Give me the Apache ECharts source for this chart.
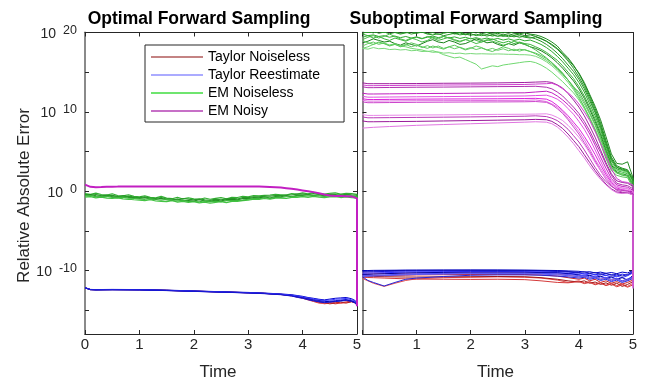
<!DOCTYPE html>
<html><head><meta charset="utf-8">
<script src="https://cdn.jsdelivr.net/npm/echarts@6/dist/echarts.min.js"></script>
<style>html,body{margin:0;padding:0;background:#fff}#c{width:653px;height:382px}</style>
</head><body><div id="c"></div>
<script>
// ---- x samples (Time) ----
const X_FINE = [0,0.1,0.2,0.3,0.4,0.5,0.6,0.7,0.8,0.9,1,1.1,1.2,1.3,1.4,1.5,1.6,1.7,1.8,1.9,2,2.1,2.2,2.3,2.4,2.5,2.6,2.7,2.8,2.9,3,3.1,3.2,3.3,3.4,3.5,3.6,3.7,3.8,3.9,4,4.1,4.2,4.3,4.4,4.5,4.6,4.7,4.8,4.9,5,5];
const XL_S = [0,0.1,0.2,0.5,1,1.5,2,2.5,3,3.3,3.6,3.8,3.9,4,4.1,4.2,4.3,4.4,4.5,4.6,4.7,4.8,4.9,4.97,5];
const XR_S = [0,0.1,0.2,0.4,0.6,0.8,1,1.5,2,2.5,3,3.3,3.6,3.8,4,4.1,4.2,4.3,4.4,4.5,4.6,4.7,4.8,4.9,5];
const XR_M = [0,0.1,0.2,0.5,1,1.5,2,2.5,3,3.2,3.4,3.5,3.6,3.7,3.8,3.9,4,4.1,4.2,4.3,4.4,4.5,4.6,4.7,4.8,4.9,5,5];

// ---- y tick exponents (Relative Absolute Error = 10^value) ----
const Y_LABELS = [-10,0,10,20];
const Y_TICKS = [-15,-10,-5,0,5,10,15,20];

// ---- Optimal Forward Sampling (log10 of error) ----
const optEMNoisy = [0.82,0.55,0.5,0.52,0.55,0.57,0.58,0.6,0.6,0.6,
 0.6,0.6,0.6,0.6,0.6,0.6,0.6,0.6,0.6,0.6,
 0.6,0.6,0.6,0.6,0.6,0.6,0.6,0.6,0.6,0.6,
 0.6,0.6,0.58,0.56,0.54,0.5,0.45,0.38,0.3,0.2,
 0.1,0.0,-0.12,-0.25,-0.42,-0.55,-0.6,-0.62,-0.64,-0.66,-0.9,-14.5];
const optEMNoiseless1 = [-0.3,-0.4,-0.25,-0.42,-0.48,-0.33,-0.55,-0.6,-0.45,-0.65,
 -0.72,-0.58,-0.78,-0.85,-0.66,-0.88,-0.95,-0.78,-0.98,-0.85,
 -0.98,-1.05,-0.86,-1.02,-0.9,-0.82,-0.95,-0.78,-0.8,-0.66,
 -0.7,-0.55,-0.6,-0.52,-0.48,-0.4,-0.45,-0.5,-0.3,-0.36,
 -0.22,-0.34,-0.16,-0.3,-0.38,-0.26,-0.22,-0.38,-0.27,-0.3,-0.4,-14];
const optEMNoiseless2 = [-0.5,-0.42,-0.58,-0.62,-0.5,-0.68,-0.72,-0.6,-0.78,-0.82,
 -0.92,-0.82,-0.98,-1.04,-0.9,-1.08,-1.14,-0.98,-1.15,-1.18,
 -1.24,-1.08,-1.22,-1.28,-1.12,-1.24,-1.06,-1.02,-1.1,-0.92,
 -0.94,-0.82,-0.84,-0.72,-0.86,-0.68,-0.7,-0.56,-0.72,-0.52,
 -0.54,-0.42,-0.56,-0.45,-0.58,-0.48,-0.62,-0.48,-0.58,-0.62,-0.65,-14];
const optEMNoiseless3 = [-0.75,-0.68,-0.84,-0.76,-0.88,-0.92,-0.85,-0.98,-1.02,-1.08,
 -1.12,-1.18,-1.06,-1.24,-1.28,-1.32,-1.18,-1.38,-1.28,-1.42,
 -1.32,-1.48,-1.38,-1.52,-1.4,-1.32,-1.44,-1.28,-1.28,-1.18,
 -1.12,-1.02,-1.04,-0.92,-1.02,-0.88,-0.88,-0.92,-0.78,-0.78,
 -0.68,-0.78,-0.66,-0.75,-0.82,-0.72,-0.68,-0.8,-0.72,-0.82,-0.85,-14];
const optEMNoiseless4 = [-0.4,-0.52,-0.42,-0.55,-0.62,-0.52,-0.65,-0.72,-0.62,-0.75,
 -0.82,-0.72,-0.88,-0.92,-0.8,-0.98,-1.0,-1.08,-0.92,-1.02,
 -1.1,-0.98,-1.08,-1.15,-1.0,-1.1,-0.98,-0.9,-0.98,-0.82,
 -0.8,-0.7,-0.72,-0.62,-0.62,-0.55,-0.55,-0.48,-0.48,-0.38,
 -0.36,-0.42,-0.3,-0.4,-0.46,-0.38,-0.44,-0.5,-0.4,-0.47,-0.5,-14];
const optEMNoiseless5 = [-0.6,-0.56,-0.68,-0.72,-0.66,-0.78,-0.82,-0.76,-0.88,-0.92,
 -0.98,-1.02,-0.95,-1.08,-1.12,-1.05,-1.18,-1.22,-1.15,-1.28,
 -1.3,-1.33,-1.22,-1.35,-1.26,-1.33,-1.2,-1.18,-1.16,-1.12,
 -1.02,-0.93,-0.95,-0.83,-0.9,-0.78,-0.77,-0.7,-0.7,-0.63,
 -0.62,-0.6,-0.6,-0.58,-0.67,-0.58,-0.64,-0.66,-0.64,-0.63,-0.7,-14];
const optTaylorRe1 = [-12.15,-12.38,-12.4,-12.38,-12.4,-12.47,-12.57,-12.67,-12.76,-12.84,-12.95,-13.05,-13.15,-13.25,-13.4,-13.5,-13.62,-13.7,-13.6,-13.5,-13.45,-13.4,-13.55,-13.8,-14.2];
const optTaylorRe2 = [-12.2,-12.42,-12.44,-12.42,-12.44,-12.52,-12.62,-12.72,-12.82,-12.9,-13.02,-13.18,-13.32,-13.45,-13.6,-13.75,-13.9,-13.95,-13.85,-13.8,-13.72,-13.65,-13.8,-14.0,-14.3];
const optTaylorRe3 = [-12.18,-12.4,-12.43,-12.41,-12.43,-12.5,-12.6,-12.7,-12.8,-12.88,-13.0,-13.12,-13.25,-13.38,-13.5,-13.65,-13.78,-13.85,-13.95,-13.88,-13.8,-13.72,-13.85,-14.05,-14.35];
const optTaylorRe4 = [-12.17,-12.39,-12.42,-12.4,-12.42,-12.49,-12.59,-12.69,-12.79,-12.87,-12.98,-13.1,-13.2,-13.32,-13.45,-13.58,-13.68,-13.78,-13.72,-13.62,-13.58,-13.52,-13.68,-13.9,-14.25];
const optTaylorRe5 = [-12.19,-12.41,-12.44,-12.43,-12.45,-12.53,-12.63,-12.73,-12.83,-12.92,-13.05,-13.22,-13.38,-13.5,-13.68,-13.82,-13.95,-14.05,-13.98,-13.92,-13.85,-13.78,-13.9,-14.1,-14.4];
const optTaylorNl1 = [-12.19,-12.41,-12.43,-12.41,-12.43,-12.51,-12.61,-12.71,-12.81,-12.89,-13.02,-13.2,-13.35,-13.5,-13.7,-13.9,-14.1,-14.15,-14.05,-14.2,-14.1,-13.95,-13.85,-14.0,-14.3];
const optTaylorNl2 = [-12.18,-12.4,-12.42,-12.4,-12.42,-12.5,-12.6,-12.7,-12.8,-12.88,-13.0,-13.15,-13.3,-13.45,-13.62,-13.85,-14.0,-14.2,-14.1,-14.0,-14.12,-14.05,-13.9,-14.05,-14.35];
const optTaylorNl3 = [-12.17,-12.39,-12.41,-12.39,-12.41,-12.49,-12.59,-12.69,-12.79,-12.87,-13.0,-13.12,-13.28,-13.42,-13.58,-13.78,-13.95,-14.05,-14.2,-14.1,-13.98,-14.1,-13.95,-14.1,-14.4];

// ---- Suboptimal Forward Sampling (log10 of error) ----
const subTaylorRe1 = [-10.0,-10.0,-9.98,-9.97,-9.96,-9.95,-9.95,-9.94,-9.93,-9.93,-9.95,-9.97,-10.0,-10.05,-10.1,-10.2,-10.15,-10.3,-10.2,-10.35,-10.25,-10.4,-10.2,-10.3,-10.0];
const subTaylorRe2 = [-10.2,-10.18,-10.15,-10.12,-10.1,-10.08,-10.06,-10.04,-10.03,-10.03,-10.05,-10.08,-10.12,-10.2,-10.3,-10.45,-10.35,-10.55,-10.4,-10.6,-10.5,-10.7,-10.45,-10.6,-10.2];
const subTaylorRe3 = [-10.35,-10.33,-10.3,-10.27,-10.24,-10.2,-10.17,-10.14,-10.12,-10.12,-10.14,-10.18,-10.25,-10.35,-10.45,-10.4,-10.6,-10.5,-10.75,-10.6,-10.85,-10.7,-10.9,-10.65,-10.3];
const subTaylorRe4 = [-10.5,-10.48,-10.45,-10.4,-10.36,-10.32,-10.28,-10.24,-10.22,-10.21,-10.22,-10.26,-10.3,-10.4,-10.55,-10.7,-10.6,-10.85,-10.7,-11.0,-10.8,-11.1,-10.9,-11.2,-10.6];
const subTaylorRe5 = [-10.6,-10.62,-10.6,-10.55,-10.5,-10.45,-10.4,-10.36,-10.33,-10.32,-10.33,-10.36,-10.42,-10.5,-10.65,-10.6,-10.8,-10.7,-10.95,-10.85,-11.1,-10.95,-11.3,-11.05,-10.8];
const subTaylorRe6 = [-10.8,-11.25,-11.5,-11.95,-11.5,-11.1,-10.95,-10.75,-10.6,-10.55,-10.55,-10.6,-10.7,-10.8,-10.95,-10.85,-11.1,-10.95,-11.25,-11.1,-11.4,-11.2,-11.5,-11.3,-11.0];
const subTaylorRe7 = [-10.75,-10.72,-10.7,-10.65,-10.6,-10.55,-10.5,-10.45,-10.4,-10.38,-10.4,-10.45,-10.55,-10.65,-10.8,-10.7,-10.95,-10.85,-11.15,-11.0,-11.3,-11.1,-11.45,-11.2,-10.9];
const subTaylorRe8 = [-10.1,-10.08,-10.05,-10.02,-10.0,-9.98,-9.97,-9.96,-9.96,-9.97,-9.98,-10.0,-10.05,-10.12,-10.25,-10.15,-10.35,-10.25,-10.5,-10.35,-10.6,-10.45,-10.7,-10.5,-10.1];
const subTaylorNl1 = [-10.5,-10.55,-10.6,-10.62,-10.6,-10.58,-10.55,-10.52,-10.5,-10.48,-10.5,-10.55,-10.7,-10.9,-11.1,-10.95,-11.3,-11.1,-11.5,-11.3,-11.6,-11.4,-11.7,-11.5,-11.2];
const subTaylorNl2 = [-11.0,-11.3,-11.6,-12.0,-11.6,-11.25,-11.05,-10.9,-10.85,-10.8,-10.85,-10.95,-11.2,-11.5,-11.3,-11.55,-11.4,-11.7,-11.5,-11.85,-11.6,-11.9,-11.7,-12.0,-11.6];
const subTaylorNl3 = [-10.7,-10.72,-10.74,-10.78,-10.8,-10.82,-10.82,-10.8,-10.78,-10.75,-10.78,-10.9,-11.1,-11.3,-11.45,-11.3,-11.6,-11.45,-11.75,-11.55,-11.85,-11.6,-12.0,-11.75,-11.4];
const subTaylorNl4 = [-10.3,-10.32,-10.33,-10.35,-10.35,-10.35,-10.34,-10.32,-10.3,-10.28,-10.3,-10.35,-10.45,-10.6,-10.8,-10.65,-10.95,-10.8,-11.1,-10.9,-11.2,-11.0,-11.3,-11.1,-10.9];
const subTaylorNl5 = [-10.85,-10.88,-10.9,-10.95,-11.0,-11.05,-11.08,-11.1,-11.12,-11.1,-11.15,-11.3,-11.5,-11.55,-11.4,-11.65,-11.5,-11.8,-11.6,-11.9,-11.7,-12.05,-11.8,-12.1,-11.8];

const subEMNoisy1 = [13.65,13.55,13.55,13.55,13.57,13.6,13.62,13.65,13.7,13.75,13.8,13.7,13.4,13.0,12.3,11.5,10.6,9.5,8.2,6.8,5.2,3.6,2.2,1.3,1.1,1.0,0.6,-11.5];
const subEMNoisy2 = [13.4,13.3,13.3,13.32,13.35,13.38,13.4,13.42,13.45,13.5,13.55,13.6,13.35,12.9,12.4,11.8,11.0,10.0,8.9,7.5,6.0,4.4,2.8,1.6,1.2,1.1,0.8,-11.3];
const subEMNoisy3 = [13.15,13.05,13.05,13.07,13.1,13.12,13.15,13.18,13.2,13.22,13.1,12.9,12.5,12.0,11.3,10.6,9.8,8.8,7.6,6.2,4.9,3.4,2.0,1.0,0.8,0.7,0.3,-11.8];
const subEMNoisy4 = [12.35,12.25,12.25,12.27,12.3,12.32,12.35,12.38,12.4,12.5,12.6,12.4,12.0,11.5,10.9,10.2,9.4,8.4,7.2,5.8,4.3,2.9,1.6,0.8,0.6,0.5,0.1,-11.6];
const subEMNoisy5 = [11.95,11.85,11.85,11.87,11.9,11.92,11.95,11.97,12.0,12.05,12.1,11.9,11.6,11.1,10.4,9.7,8.8,7.8,6.6,5.2,3.8,2.4,1.3,0.6,0.4,0.3,-0.1,-11.9];
const subEMNoisy6 = [11.65,11.55,11.55,11.57,11.6,11.62,11.63,11.65,11.68,11.7,11.6,11.3,10.8,10.2,9.5,8.7,7.9,6.9,5.8,4.6,3.3,2.1,1.1,0.4,0.2,0.1,-0.2,-12.0];
const subEMNoisy7 = [11.45,11.35,11.35,11.37,11.4,11.41,11.42,11.44,11.45,11.5,11.3,11.0,10.6,10.0,9.2,8.4,7.5,6.5,5.3,4.0,2.9,1.8,0.9,0.3,0.1,0.0,-0.3,-11.7];
const subEMNoisy8 = [11.25,11.15,11.15,11.17,11.2,11.22,11.24,11.25,11.27,11.3,11.2,10.9,10.4,9.8,9.0,8.1,7.2,6.1,5.0,3.8,2.6,1.5,0.7,0.1,-0.1,-0.2,-0.5,-12.2];
const subEMNoisy9 = [9.65,9.55,9.55,9.57,9.6,9.62,9.65,9.68,9.7,9.72,9.75,9.6,9.3,8.9,8.3,7.6,6.8,5.9,4.8,3.6,2.6,1.6,0.9,0.5,0.4,0.3,0.0,-11.4];
const subEMNoisy10 = [9.35,9.25,9.25,9.27,9.3,9.33,9.36,9.4,9.45,9.5,9.4,9.2,8.9,8.4,7.8,7.0,6.2,5.2,4.1,3.0,2.0,1.2,0.6,0.2,0.1,0.0,-0.3,-12.0];
const subEMNoisy11 = [8.85,8.75,8.75,8.77,8.8,8.85,8.9,8.95,9.0,9.05,9.0,8.8,8.4,7.9,7.2,6.4,5.6,4.6,3.6,2.6,1.7,0.9,0.3,-0.1,-0.2,-0.2,-0.4,-11.5];
const subEMNoisy12 = [7.95,8.0,8.05,8.15,8.3,8.4,8.5,8.6,8.7,8.75,8.7,8.5,8.1,7.5,6.8,6.0,5.1,4.2,3.2,2.3,1.5,0.8,0.2,-0.2,-0.3,-0.2,-0.5,-12.3];

const subEMNoiseless1 = [20.6,20.4,20.5,20.3,20.45,20.2,20.35,20.5,20.3,20.4,
 20.2,20.35,20.1,20.25,20.4,20.2,20.3,20.1,20.0,20.15,
 20.3,20.1,20.2,20.0,19.9,20.05,19.95,20.1,19.9,19.85,
 19.95,19.8,19.7,19.5,19.2,18.8,18.3,17.5,16.8,15.9,
 14.8,13.5,12.0,10.4,8.6,6.4,4.3,3.2,2.9,2.7,1.6,-8];
const subEMNoiseless2 = [20.1,20.0,20.2,19.9,20.05,19.85,20.0,19.8,19.95,20.1,
 19.9,20.05,19.8,19.7,19.85,19.6,19.75,19.9,19.7,19.8,
 19.65,19.8,19.6,19.75,19.55,19.7,19.5,19.65,19.45,19.6,
 19.4,19.3,19.45,19.2,18.9,18.4,17.9,17.2,16.4,15.5,
 14.4,13.2,11.7,10.1,8.3,6.1,4.1,3.0,2.8,2.6,1.4,-8];
const subEMNoiseless3 = [19.8,19.6,19.7,19.5,19.6,19.4,19.55,19.35,19.5,19.3,
 19.45,19.25,19.4,19.55,19.35,19.5,19.3,19.45,19.25,19.4,
 19.2,19.35,19.15,19.3,19.1,19.25,19.05,19.2,19.0,19.15,
 18.95,19.05,18.8,18.5,18.1,17.6,17.0,16.3,15.5,14.7,
 13.7,12.5,11.0,9.5,7.8,5.7,3.8,2.8,2.6,2.4,1.2,-8];
const subEMNoiseless4 = [19.4,19.6,19.3,19.5,19.2,19.0,19.3,19.1,18.9,19.2,
 19.4,19.2,19.5,19.3,19.0,19.2,19.4,19.1,18.9,19.1,
 19.3,19.0,18.8,19.0,19.2,18.9,18.7,18.9,18.6,18.8,
 18.6,18.5,18.2,17.9,17.5,17.0,16.5,15.8,15.0,14.2,
 13.2,12.0,10.6,9.1,7.4,5.4,3.5,2.6,2.4,2.2,1.0,-8];
const subEMNoiseless5 = [18.7,18.9,19.2,19.0,18.8,18.9,18.6,18.4,18.7,18.5,
 18.3,18.6,18.9,19.1,18.8,18.7,19.0,18.8,18.5,18.6,
 18.9,19.2,19.0,18.7,18.8,18.5,18.3,18.6,18.4,18.7,
 18.5,18.2,18.0,17.7,17.3,16.8,16.2,15.5,14.7,13.9,
 12.9,11.7,10.3,8.8,7.1,5.1,3.3,2.4,2.2,2.0,0.8,-8];
const subEMNoiseless6 = [18.3,18.6,18.8,18.5,18.7,18.4,18.6,18.3,18.5,18.2,
 18.4,18.1,18.35,18.05,18.3,18.0,18.2,17.95,18.15,17.9,
 18.1,17.85,18.05,17.8,18.0,17.75,17.95,17.7,17.9,17.65,
 17.85,17.6,17.3,16.9,16.5,16.0,15.4,14.7,14.0,13.2,
 12.2,11.0,9.7,8.3,6.6,4.7,3.0,2.3,2.1,1.9,0.7,-8];
const subEMNoiseless7 = [18.0,18.2,18.5,18.7,18.6,18.4,18.5,18.3,18.2,18.0,
 17.9,17.8,17.6,17.7,17.5,17.2,17.0,16.8,16.9,16.6,
 16.3,16.0,15.4,15.6,15.8,15.7,15.9,16.0,16.1,16.2,
 16.3,16.35,16.2,15.9,15.5,15.0,14.4,13.8,13.1,12.4,
 11.5,10.4,9.1,7.7,6.1,4.3,2.8,2.3,2.2,2.5,1.1,-8];
const subEMNoiseless8 = [18.0,17.9,18.1,17.95,18.0,17.85,17.9,17.8,17.85,17.7,
 17.75,17.6,17.65,17.5,17.55,17.4,17.45,17.35,17.4,17.3,
 17.35,17.3,17.32,17.3,17.28,17.3,17.28,17.25,17.25,17.2,
 17.2,17.15,17.0,16.7,16.3,15.8,15.2,14.5,13.7,12.8,
 11.7,10.6,9.3,7.9,6.3,4.5,3.0,2.6,2.6,2.4,1.2,-8];
const subEMNoiseless9 = [19.9,20.1,19.95,20.2,20.0,20.3,20.1,19.9,20.05,19.8,
 19.95,20.1,19.85,20.0,19.75,19.9,20.05,19.8,19.95,19.7,
 19.85,19.6,19.75,19.55,19.7,19.5,19.65,19.45,19.6,19.4,
 19.55,19.4,19.2,18.9,18.5,18.0,17.4,16.7,15.9,15.1,
 14.1,12.9,11.4,9.9,8.1,6.0,4.0,3.0,2.7,2.5,1.3,-8];
const subEMNoiseless10 = [19.1,19.4,19.6,19.3,19.5,19.8,19.5,19.2,19.0,19.3,
 19.1,18.8,19.0,19.4,19.2,19.5,19.3,19.0,18.8,19.1,
 18.9,18.6,18.8,19.1,18.9,18.7,18.4,18.6,18.9,18.7,
 18.5,18.2,17.8,17.3,16.8,16.2,15.5,14.8,14.0,13.1,
 12.5,11.3,9.9,8.5,6.8,4.9,3.1,2.3,2.0,1.9,0.6,-8];
const subEMNoiseless11 = [20.9,20.7,20.8,20.6,20.75,20.5,20.65,20.4,20.55,20.3,
 20.45,20.2,20.35,20.1,20.25,20.0,20.15,19.9,20.05,19.8,
 19.95,20.1,19.85,20.0,19.75,19.9,19.7,19.85,19.65,19.8,
 19.6,19.7,19.5,19.25,18.9,18.5,18.0,17.3,16.6,15.8,
 14.9,13.7,12.2,10.7,9.0,6.9,4.7,3.5,3.4,3.7,1.7,-8];
const subEMNoiseless12 = [19.0,18.7,18.5,18.8,18.6,18.3,18.5,18.2,18.4,18.7,
 18.5,18.2,18.0,18.3,18.1,17.9,18.2,18.4,18.1,17.8,
 18.0,18.3,18.1,17.8,17.6,17.9,18.2,18.0,17.7,17.9,
 17.8,17.6,17.4,17.1,16.7,16.2,15.6,14.9,14.0,13.0,
 11.9,10.6,9.2,7.7,6.0,4.1,2.6,2.0,1.8,1.7,0.4,-8];

const LEGEND_NAMES = ['Taylor Noiseless','Taylor Reestimate','EM Noiseless','EM Noisy'];
const LEGEND_COLORS = ['#b05a5a','#8f8fff','#3fdc3f','#b540b5'];

const FONT = 'Liberation Sans';
const series = [];
function add(xs, ys, xi, color, width, tag) {
  if (xs.length !== ys.length) throw new Error('length mismatch ' + tag + ': ' + xs.length + ' vs ' + ys.length);
  series.push({
    type: 'line', name: tag, xAxisIndex: xi, yAxisIndex: xi,
    data: xs.map((x, i) => [x, ys[i]]),
    symbol: 'none', showSymbol: false, silent: true, animation: false,
    lineStyle: { color: color, width: width }, itemStyle: { color: color },
    emphasis: { disabled: true }, z: 2
  });
}
// left panel (axis index 0)
[optTaylorNl1, optTaylorNl2, optTaylorNl3].forEach((d, i) => add(XL_S, d, 0, ['#d62f2f','#e85050','#b82020'][i], 1, 'oTN' + i));
[optTaylorRe1, optTaylorRe2, optTaylorRe3, optTaylorRe4, optTaylorRe5].forEach((d, i) => add(XL_S, d, 0, ['#0000cc','#2020e6','#0000a8','#3a3aff','#1414d0'][i], 1, 'oTR' + i));
[optEMNoiseless1, optEMNoiseless2, optEMNoiseless3, optEMNoiseless4, optEMNoiseless5].forEach((d, i) => add(X_FINE, d, 0, ['#33b033','#1f8a1f','#44c444','#2a9a2a','#3cb83c'][i], 1.2, 'oEN' + i));
add(X_FINE, optEMNoisy, 0, '#c21fc2', 2, 'oEY');
// right panel (axis index 2)
[subTaylorNl1, subTaylorNl2, subTaylorNl3, subTaylorNl4, subTaylorNl5].forEach((d, i) => add(XR_S, d, 2, ['#cc2222','#e04b4b','#a01818','#f07070','#d43a3a'][i], 1, 'sTN' + i));
[subTaylorRe1, subTaylorRe2, subTaylorRe3, subTaylorRe4, subTaylorRe5, subTaylorRe6, subTaylorRe7, subTaylorRe8].forEach((d, i) => add(XR_S, d, 2, ['#0000c8','#1a1ae6','#3333ff','#0000a0','#4d4dff','#2626d9','#5959f2','#1010b8'][i], 1, 'sTR' + i));
[subEMNoiseless1, subEMNoiseless2, subEMNoiseless3, subEMNoiseless4, subEMNoiseless5, subEMNoiseless6, subEMNoiseless7, subEMNoiseless8, subEMNoiseless9, subEMNoiseless10, subEMNoiseless11, subEMNoiseless12].forEach((d, i) => add(X_FINE, d, 2, ['#1e8c1e','#249a24','#2ea82e','#3cb43c','#1a801a','#66cc66','#70d870','#7ad87a','#2a962a','#4cbc4c','#208820','#5ac85a'][i], 1, 'sEN' + i));
[subEMNoisy1, subEMNoisy2, subEMNoisy3, subEMNoisy4, subEMNoisy5, subEMNoisy6, subEMNoisy7, subEMNoisy8, subEMNoisy9, subEMNoisy10, subEMNoisy11, subEMNoisy12].forEach((d, i) => add(XR_M, d, 2, ['#a0209f','#d040d0','#b030b0','#c020c0','#e050e0','#dd22dd','#e070e0','#cc44cc','#e888e8','#b838b8','#9a1a9a','#e075e0'][i], 1, 'sEY' + i));
// legend entries
LEGEND_NAMES.forEach((n, i) => series.push({ type: 'line', name: n, data: [], xAxisIndex: 0, yAxisIndex: 0, symbol: 'none', lineStyle: { color: LEGEND_COLORS[i] }, itemStyle: { color: LEGEND_COLORS[i] } }));

const axisDark = { lineStyle: { color: '#262626', width: 1 } };
const axisGray = { lineStyle: { color: '#8a8a8a', width: 2 } };
const tickIn = { inside: true, length: 4, lineStyle: { color: '#262626' } };
function xAx(grid, pos, labels, hideZero) {
  return {
    type: 'value', gridIndex: grid, position: pos, min: 0, max: 5, interval: 1,
    axisLine: Object.assign({ show: true, onZero: false }, axisDark),
    axisTick: tickIn, splitLine: { show: false },
    axisLabel: { show: labels, margin: 3, fontSize: 15, fontFamily: FONT, color: '#262626',
      formatter: v => (hideZero && v === 0) ? '' : String(v) }
  };
}
function yAx(grid, pos, labels, gray) {
  return {
    type: 'value', gridIndex: grid, position: pos, min: -18, max: 20,
    axisLine: Object.assign({ show: true, onZero: false }, gray ? axisGray : axisDark),
    axisTick: Object.assign({ customValues: Y_TICKS }, tickIn), splitLine: { show: false },
    axisLabel: { show: labels, customValues: Y_LABELS, margin: 8, color: '#262626',
      formatter: v => '{b|10}{s|' + v + '}',
      rich: {
        b: { fontSize: 14, fontFamily: FONT, color: '#262626', verticalAlign: 'bottom' },
        s: { fontSize: 12.5, fontFamily: FONT, color: '#262626', verticalAlign: 'top', padding: [0, 0, 4, 7] }
      } }
  };
}

const option = {
  animation: false,
  backgroundColor: '#fff',
  textStyle: { fontFamily: FONT },
  grid: [
    { left: 85, top: 32.5, width: 272, height: 301.5, outerBoundsMode: 'none' },
    { left: 362.5, top: 32.5, width: 270.5, height: 301.5, outerBoundsMode: 'none' }
  ],
  xAxis: [xAx(0, 'bottom', true, false), xAx(0, 'top', false, false), xAx(1, 'bottom', true, true), xAx(1, 'top', false, false)],
  yAxis: [yAx(0, 'left', true, true), yAx(0, 'right', false, false), yAx(1, 'left', false, true), yAx(1, 'right', false, false)],
  legend: {
    data: LEGEND_NAMES, orient: 'vertical', left: 145, top: 45,
    padding: [5, 24, 4, 6], itemWidth: 52, itemHeight: 1.5, itemGap: 4, itemTextGap: 5,
    icon: 'rect', selectedMode: false,
    borderColor: '#262626', borderWidth: 1, backgroundColor: '#fff',
    textStyle: { fontSize: 14, lineHeight: 14, color: '#000', fontFamily: FONT }, z: 10
  },
  graphic: [
    { type: 'text', x: 199, y: 19, style: { text: 'Optimal Forward Sampling', font: 'bold 17.5px "Liberation Sans"', fill: '#000', align: 'center', verticalAlign: 'middle' } },
    { type: 'text', x: 476, y: 19, style: { text: 'Suboptimal Forward Sampling', font: 'bold 17.5px "Liberation Sans"', fill: '#000', align: 'center', verticalAlign: 'middle' } },
    { type: 'text', x: 218, y: 372, style: { text: 'Time', font: '17px "Liberation Sans"', fill: '#262626', align: 'center', verticalAlign: 'middle' } },
    { type: 'text', x: 495.5, y: 372, style: { text: 'Time', font: '17px "Liberation Sans"', fill: '#262626', align: 'center', verticalAlign: 'middle' } },
    { type: 'text', x: 24, y: 195.5, rotation: Math.PI / 2, style: { text: 'Relative Absolute Error', font: '17px "Liberation Sans"', fill: '#262626', align: 'center', verticalAlign: 'middle' } }
  ],
  series: series
};
const chart = echarts.init(document.getElementById('c'), null, { renderer: 'canvas' });
chart.setOption(option);
</script></body></html>
